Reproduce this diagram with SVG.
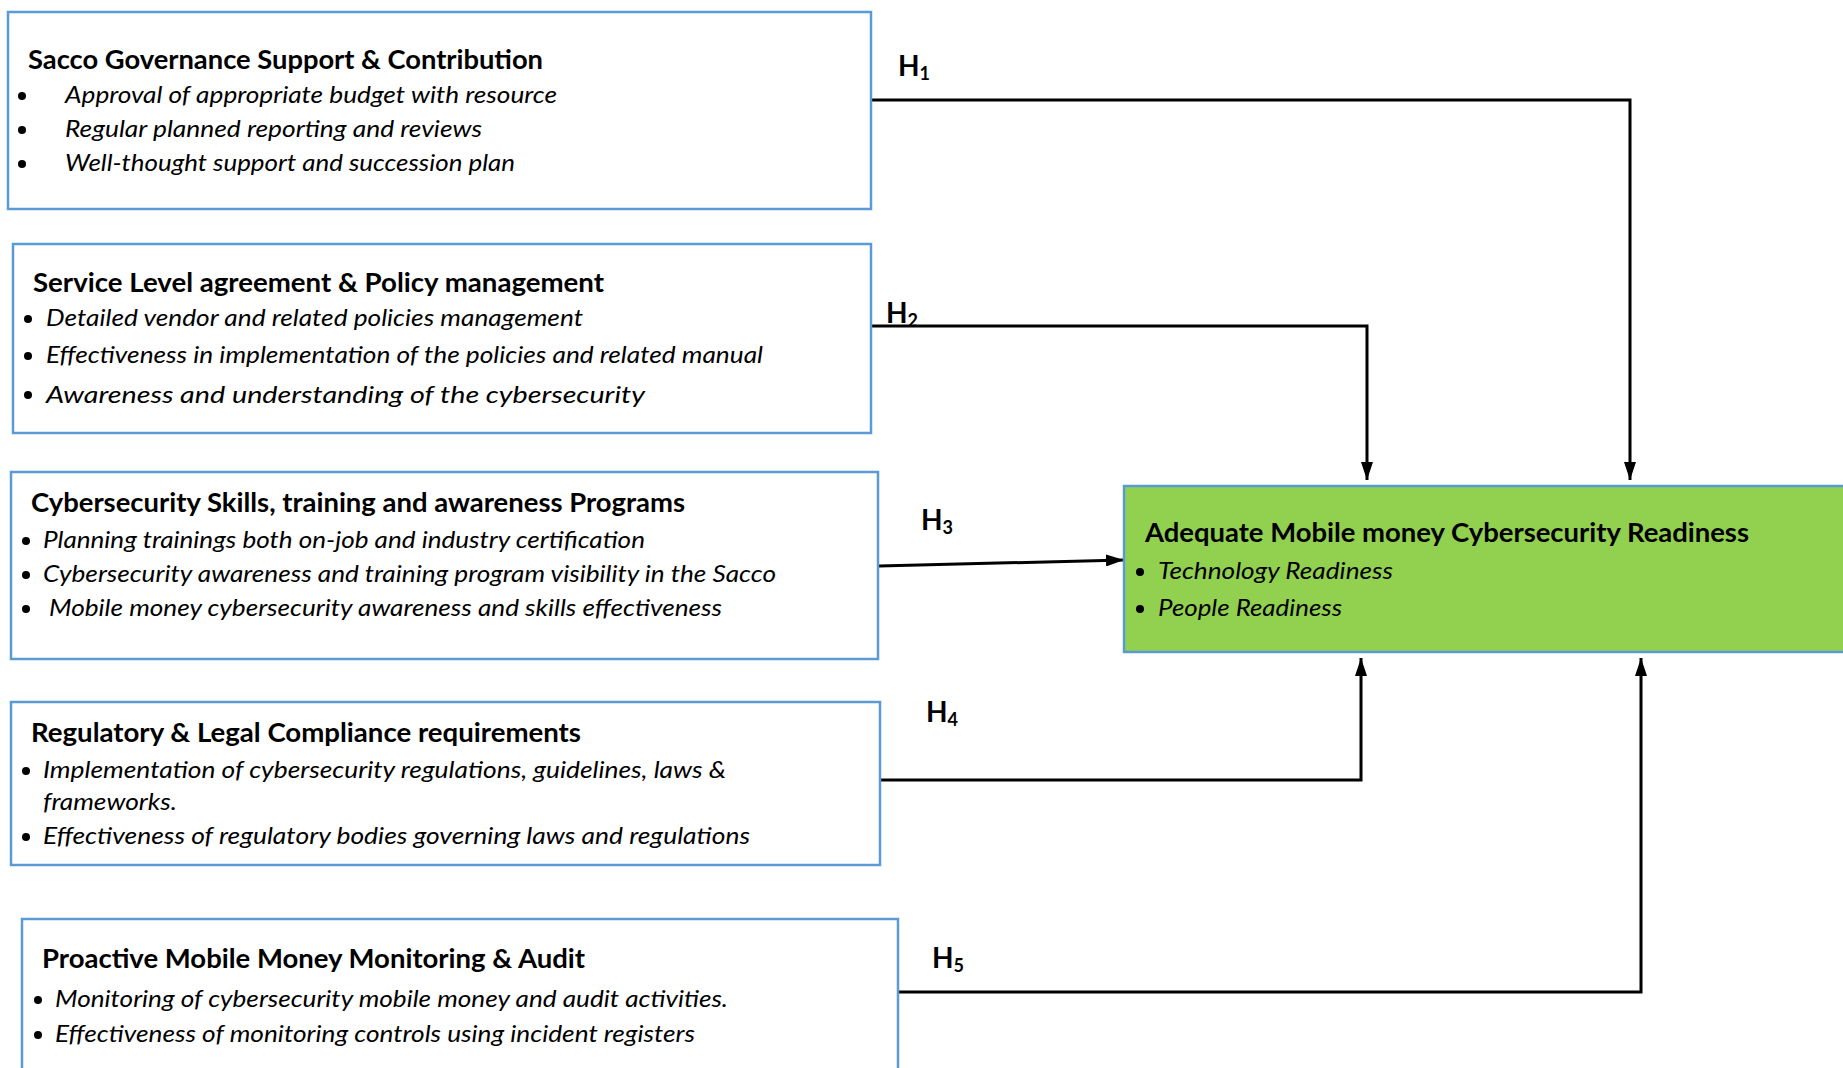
<svg xmlns="http://www.w3.org/2000/svg" width="1843" height="1068" viewBox="0 0 1843 1068">
<defs>
<marker id="arr" markerUnits="userSpaceOnUse" markerWidth="18" markerHeight="12" refX="18" refY="6" orient="auto">
<path d="M0,0 L18,6 L0,12 z" fill="#000"/>
</marker>
</defs>
<style>
.box{fill:#fff;stroke:#5B9BD5;stroke-width:2.5}
.gbox{fill:#92D050;stroke:#5B9BD5;stroke-width:2.5}
.t{font-family:Lato,"Open Sans",sans-serif;font-weight:bold;font-size:27px;fill:#000}
.i{font-family:Lato,"Open Sans",sans-serif;font-style:italic;font-size:24px;fill:#000}
.b{fill:#000}
.h{font-family:Lato,"Open Sans",sans-serif;font-weight:bold;font-size:28px;fill:#000}
.c{fill:none;stroke:#000;stroke-width:3}
</style>
<rect width="1843" height="1068" fill="#fff"/>

<g id="connectors">
<polyline class="c" points="868,100 1630,100 1630,480" marker-end="url(#arr)"/>
<polyline class="c" points="871,326 1367,326 1367,480" marker-end="url(#arr)"/>
<polyline class="c" points="879,566 1124,560" marker-end="url(#arr)"/>
<polyline class="c" points="879,780 1361,780 1361,658" marker-end="url(#arr)"/>
<polyline class="c" points="899,992 1641,992 1641,658" marker-end="url(#arr)"/>
<text class="h" x="898" y="76">H<tspan font-size="18" dy="4">1</tspan></text>
<text class="h" x="886" y="323">H<tspan font-size="18" dy="4">2</tspan></text>
<text class="h" x="921" y="530">H<tspan font-size="18" dy="4">3</tspan></text>
<text class="h" x="926" y="722">H<tspan font-size="18" dy="4">4</tspan></text>
<text class="h" x="932" y="968">H<tspan font-size="18" dy="4">5</tspan></text>
</g>

<g id="governance">
<rect class="box" x="8" y="12" width="863" height="197"/>
<text class="t" x="28" y="69" textLength="515" lengthAdjust="spacingAndGlyphs">Sacco Governance Support &amp; Contribution</text>
<circle class="b" cx="22" cy="96" r="4"/>
<text class="i" x="65" y="103" textLength="492" lengthAdjust="spacingAndGlyphs">Approval of appropriate budget with resource</text>
<circle class="b" cx="22" cy="130" r="4"/>
<text class="i" x="65" y="137" textLength="417" lengthAdjust="spacingAndGlyphs">Regular planned reporting and reviews</text>
<circle class="b" cx="22" cy="164" r="4"/>
<text class="i" x="65" y="171" textLength="450" lengthAdjust="spacingAndGlyphs">Well-thought support and succession plan</text>
</g>

<g id="sla">
<rect class="box" x="13" y="244" width="858" height="189"/>
<text class="t" x="33" y="292" textLength="571" lengthAdjust="spacingAndGlyphs">Service Level agreement &amp; Policy management</text>
<circle class="b" cx="28" cy="319" r="4"/>
<text class="i" x="46" y="326" textLength="537" lengthAdjust="spacingAndGlyphs">Detailed vendor and related policies management</text>
<circle class="b" cx="28" cy="356" r="4"/>
<text class="i" x="46" y="363" textLength="717" lengthAdjust="spacingAndGlyphs">Effectiveness in implementation of the policies and related manual</text>
<circle class="b" cx="28" cy="395" r="4"/>
<text class="i" x="46" y="403" font-size="28" textLength="599" lengthAdjust="spacingAndGlyphs">Awareness and understanding of the cybersecurity</text>
</g>

<g id="skills">
<rect class="box" x="11" y="472" width="867" height="187"/>
<text class="t" x="31" y="512" textLength="654" lengthAdjust="spacingAndGlyphs">Cybersecurity Skills, training and awareness Programs</text>
<circle class="b" cx="26" cy="541" r="4"/>
<text class="i" x="43" y="548" textLength="602" lengthAdjust="spacingAndGlyphs">Planning trainings both on-job and industry certification</text>
<circle class="b" cx="26" cy="575" r="4"/>
<text class="i" x="43" y="582" textLength="733" lengthAdjust="spacingAndGlyphs">Cybersecurity awareness and training program visibility in the Sacco</text>
<circle class="b" cx="26" cy="609" r="4"/>
<text class="i" x="49" y="616" textLength="673" lengthAdjust="spacingAndGlyphs">Mobile money cybersecurity awareness and skills effectiveness</text>
</g>

<g id="regulatory">
<rect class="box" x="11" y="702" width="869" height="163"/>
<text class="t" x="31" y="742" textLength="550" lengthAdjust="spacingAndGlyphs">Regulatory &amp; Legal Compliance requirements</text>
<circle class="b" cx="26" cy="771" r="4"/>
<text class="i" x="43" y="778" textLength="683" lengthAdjust="spacingAndGlyphs">Implementation of cybersecurity regulations, guidelines, laws &amp;</text>
<text class="i" x="43" y="810" textLength="134" lengthAdjust="spacingAndGlyphs">frameworks.</text>
<circle class="b" cx="26" cy="837" r="4"/>
<text class="i" x="43" y="844" textLength="707" lengthAdjust="spacingAndGlyphs">Effectiveness of regulatory bodies governing laws and regulations</text>
</g>

<g id="monitoring">
<rect class="box" x="22" y="919" width="876" height="170"/>
<text class="t" x="42" y="968" textLength="543" lengthAdjust="spacingAndGlyphs">Proactive Mobile Money Monitoring &amp; Audit</text>
<circle class="b" cx="38" cy="1000" r="4"/>
<text class="i" x="55" y="1007" textLength="673" lengthAdjust="spacingAndGlyphs">Monitoring of cybersecurity mobile money and audit activities.</text>
<circle class="b" cx="38" cy="1035" r="4"/>
<text class="i" x="55" y="1042" textLength="640" lengthAdjust="spacingAndGlyphs">Effectiveness of monitoring controls using incident registers</text>
</g>

<g id="readiness">
<rect class="gbox" x="1124" y="486" width="730" height="166"/>
<text class="t" x="1145" y="542" textLength="604" lengthAdjust="spacingAndGlyphs">Adequate Mobile money Cybersecurity Readiness</text>
<circle class="b" cx="1140" cy="572" r="4"/>
<text class="i" x="1158" y="579" textLength="235" lengthAdjust="spacingAndGlyphs">Technology Readiness</text>
<circle class="b" cx="1140" cy="609" r="4"/>
<text class="i" x="1158" y="616" textLength="184" lengthAdjust="spacingAndGlyphs">People Readiness</text>
</g>
</svg>
